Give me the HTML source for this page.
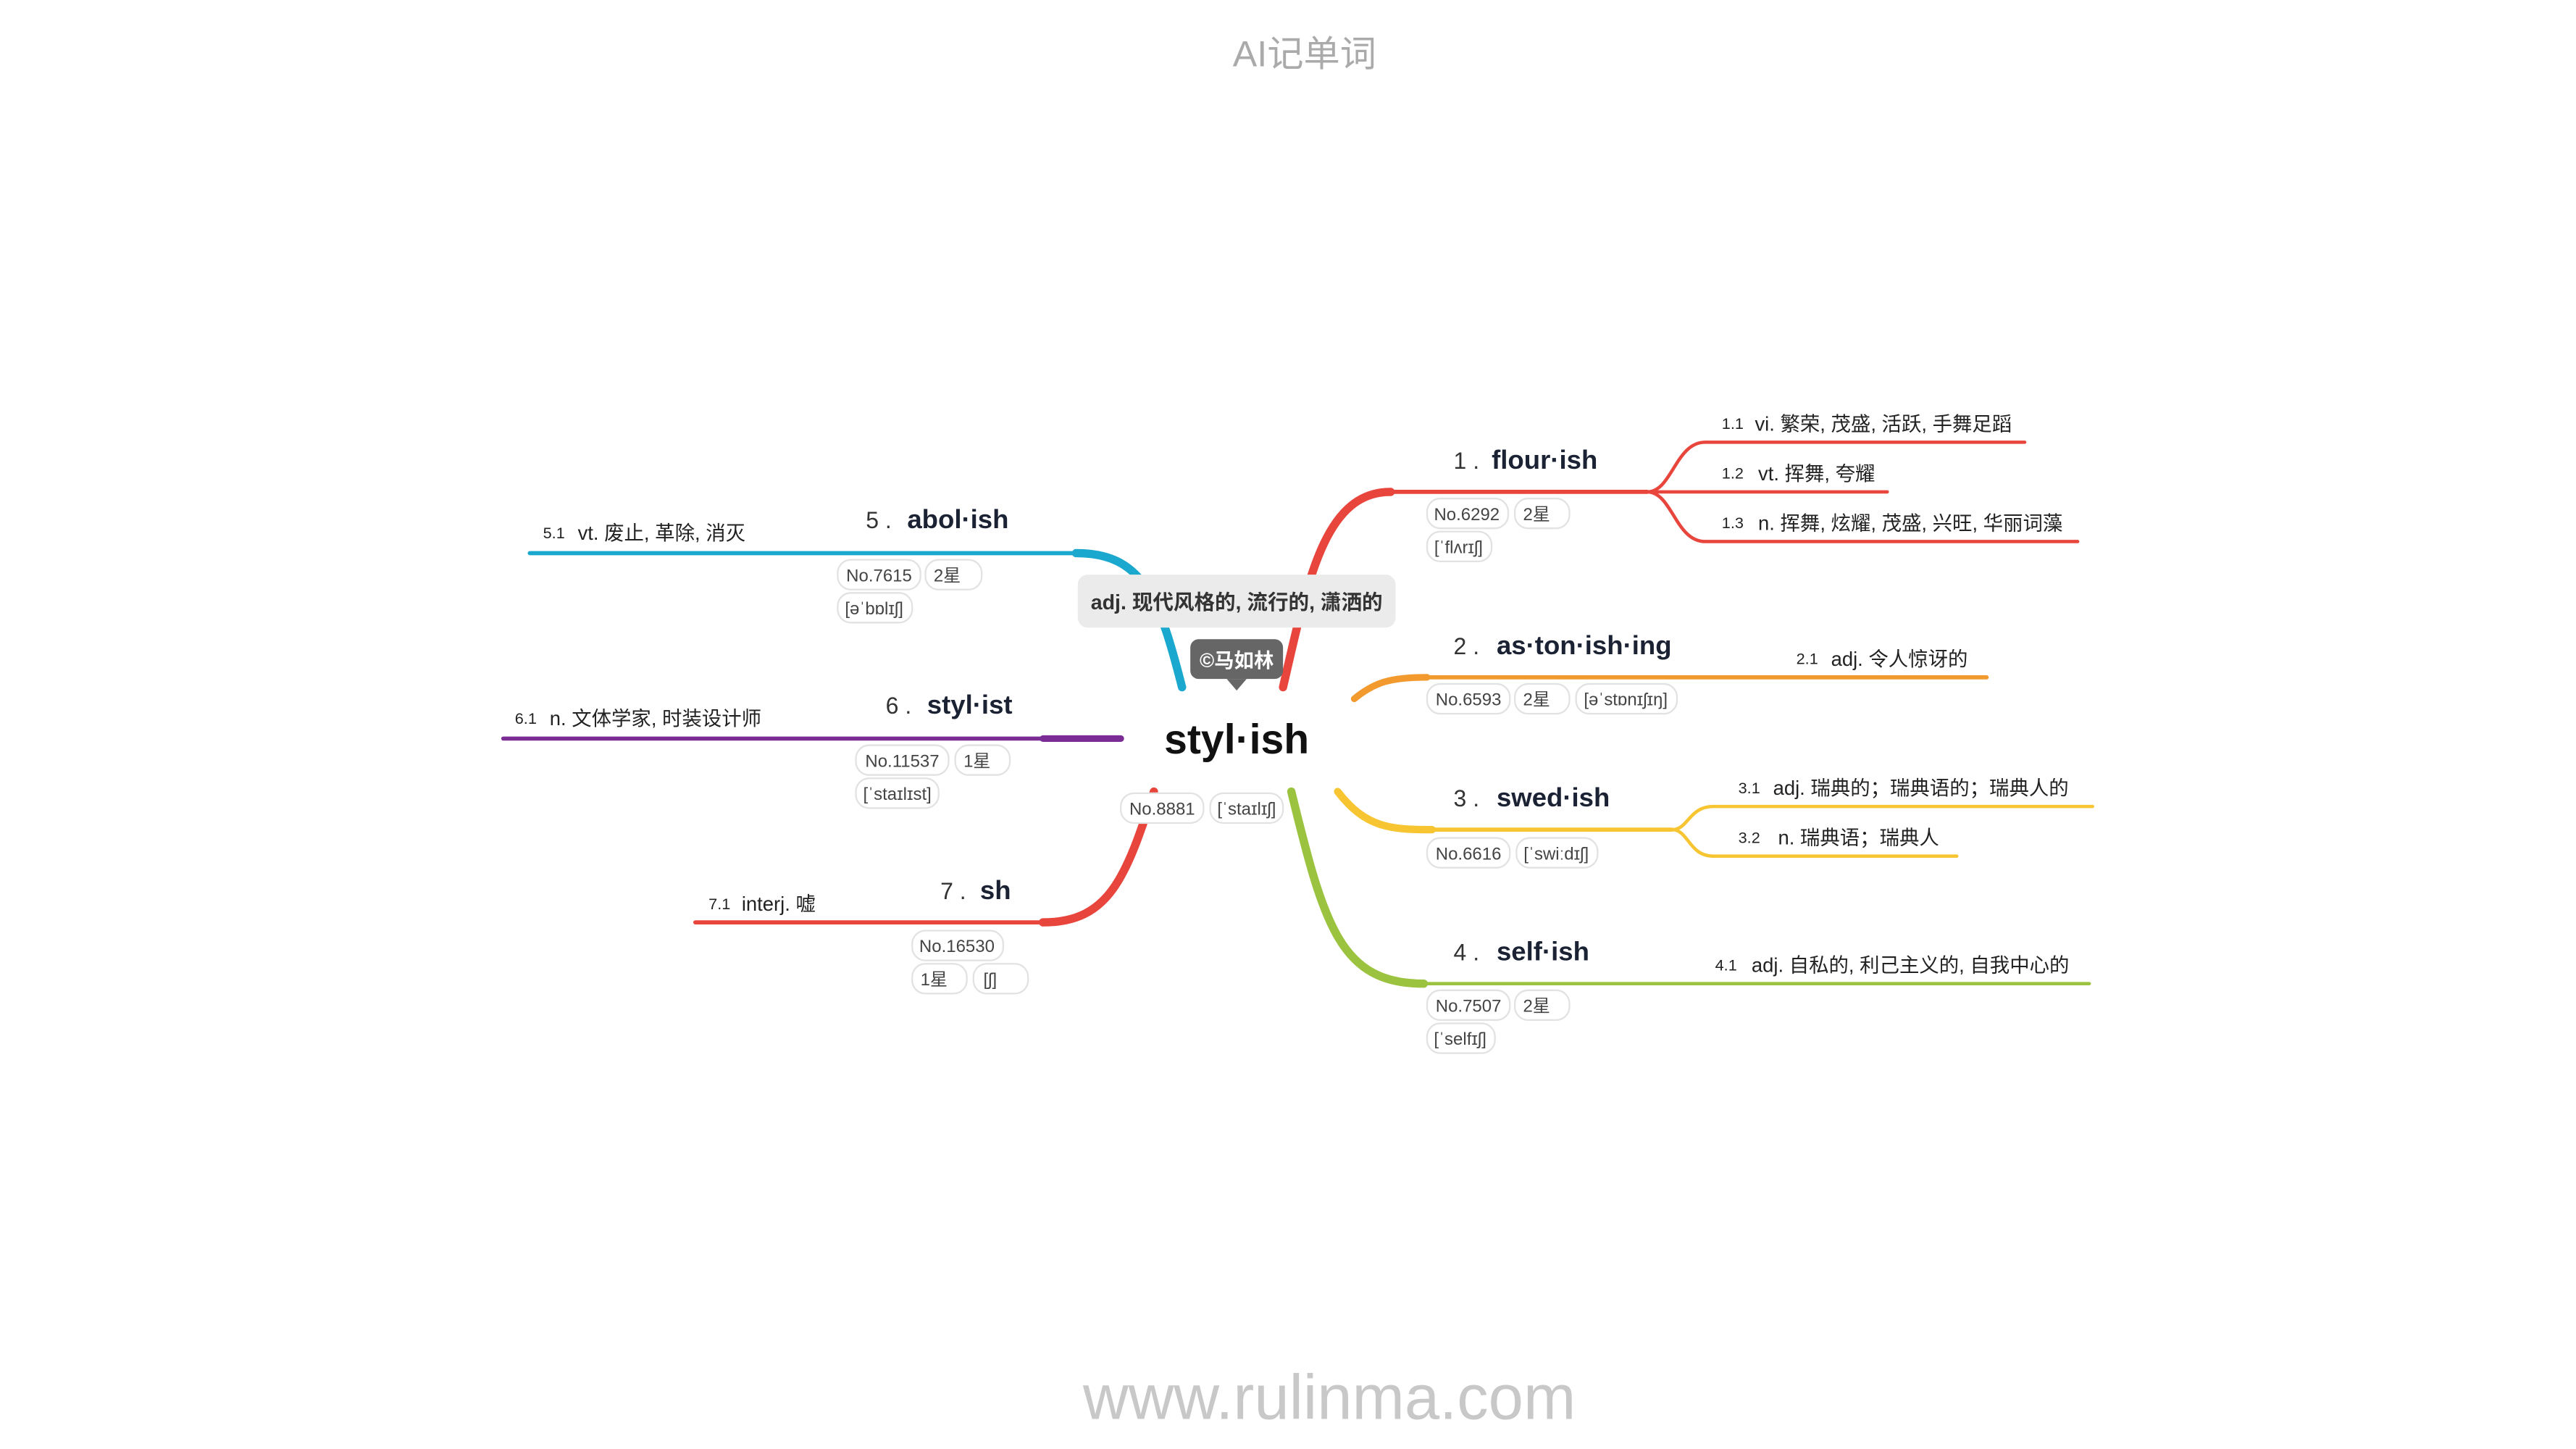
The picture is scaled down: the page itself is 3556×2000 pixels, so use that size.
<!DOCTYPE html>
<html><head><meta charset="utf-8"><style>
html,body{margin:0;padding:0;background:#fff}
svg{display:block}
text{font-family:"Liberation Sans","Noto Sans CJK SC",sans-serif}
.w{font-size:16px;font-weight:bold;fill:#1a2233}
.n{font-size:14px;fill:#333}
.s{font-size:12px;fill:#222}
.sn{font-size:9.5px;fill:#222}
.p{font-size:10.5px;fill:#444}
.pb{fill:#fff;stroke:#e2e2e2;stroke-width:1}
</style></head><body>
<svg width="3556" height="2000" viewBox="0 0 1556 875" xmlns="http://www.w3.org/2000/svg">
<rect width="1556" height="875" fill="#fff"/>
<text x="788" y="40" text-anchor="middle" font-size="22" fill="#aaa">AI记单词</text>
<text x="803" y="857" text-anchor="middle" font-size="38" fill="#c8c8c8">www.rulinma.com</text>
<g fill="none" stroke-linecap="round">
<!-- 1 red -->
<path d="M775,415 C790,350 800,297 840,297" stroke="#e8453c" stroke-width="5"/>
<path d="M838,297 L995,297" stroke="#e8453c" stroke-width="2.5"/>
<path d="M995,297 C1010,297 1012,267 1030,267 L1223,267" stroke="#e8453c" stroke-width="2"/>
<path d="M995,297 L1140,297" stroke="#e8453c" stroke-width="2"/>
<path d="M995,297 C1010,297 1012,327 1030,327 L1255,327" stroke="#e8453c" stroke-width="2"/>
<!-- 2 orange -->
<path d="M818,422 C830,412 840,409 862,409" stroke="#f29a2e" stroke-width="4"/>
<path d="M860,409 L1200,409" stroke="#f29a2e" stroke-width="2.5"/>
<!-- 3 yellow -->
<path d="M808,478 C825,500 840,501 865,501" stroke="#f7c531" stroke-width="4.5"/>
<path d="M863,501 L1010,501" stroke="#f7c531" stroke-width="2.5"/>
<path d="M1010,501 C1020,501 1020,487 1035,487 L1264,487" stroke="#f7c531" stroke-width="2"/>
<path d="M1010,501 C1020,501 1020,517 1035,517 L1182,517" stroke="#f7c531" stroke-width="2"/>
<!-- 4 green -->
<path d="M780,478 C800,560 810,594 860,594" stroke="#9bc33f" stroke-width="5"/>
<path d="M858,594 L1262,594" stroke="#9bc33f" stroke-width="2"/>
<!-- 5 blue -->
<path d="M714,415 C700,360 690,334 650,334" stroke="#1ba8cf" stroke-width="5"/>
<path d="M652,334 L320,334" stroke="#1ba8cf" stroke-width="2.5"/>
<!-- 6 purple -->
<path d="M677,446 L630,446" stroke="#7b2d95" stroke-width="4"/>
<path d="M632,446 L304,446" stroke="#7b2d95" stroke-width="2.5"/>
<!-- 7 red -->
<path d="M697,478 C680,530 670,557 630,557" stroke="#e8453c" stroke-width="5"/>
<path d="M632,557 L420,557" stroke="#e8453c" stroke-width="2.5"/>
</g>
<!-- center -->
<rect x="651" y="347" width="192" height="32" rx="6" fill="#ebebeb"/>
<text x="747" y="368" text-anchor="middle" font-size="12.5" font-weight="bold" fill="#333">adj. 现代风格的, 流行的, 潇洒的</text>
<rect x="719" y="386" width="56" height="24" rx="5" fill="#666"/>
<path d="M741,410 L747,417 L753,410 Z" fill="#666"/>
<text x="747" y="403" text-anchor="middle" font-size="12" font-weight="bold" fill="#fff">©马如林</text>
<text x="747" y="455" text-anchor="middle" font-size="25" font-weight="bold" fill="#111">styl·ish</text>
<rect class="pb" x="677" y="479" width="50" height="18" rx="8"/><text class="p" x="702" y="492" text-anchor="middle">No.8881</text>
<rect class="pb" x="731" y="479" width="44" height="18" rx="8"/><text class="p" x="753" y="492" text-anchor="middle">[ˈstaɪlɪʃ]</text>
<!-- 1 -->
<text class="n" x="878" y="283">1 .</text><text class="w" x="901" y="283">flour·ish</text>
<rect class="pb" x="862" y="301" width="49" height="18" rx="8"/><text class="p" x="886" y="314" text-anchor="middle">No.6292</text>
<rect class="pb" x="915" y="301" width="33" height="18" rx="8"/><text class="p" x="920" y="314">2星</text>
<rect class="pb" x="862" y="321" width="39" height="18" rx="8"/><text class="p" x="881" y="334" text-anchor="middle">[ˈflʌrɪʃ]</text>
<text class="sn" x="1040" y="259">1.1</text><text class="s" x="1060" y="260">vi. 繁荣, 茂盛, 活跃, 手舞足蹈</text>
<text class="sn" x="1040" y="289">1.2</text><text class="s" x="1062" y="290">vt. 挥舞, 夸耀</text>
<text class="sn" x="1040" y="319">1.3</text><text class="s" x="1062" y="320">n. 挥舞, 炫耀, 茂盛, 兴旺, 华丽词藻</text>
<!-- 2 -->
<text class="n" x="878" y="395">2 .</text><text class="w" x="904" y="395">as·ton·ish·ing</text>
<text class="sn" x="1085" y="401">2.1</text><text class="s" x="1106" y="402">adj. 令人惊讶的</text>
<rect class="pb" x="862" y="413" width="50" height="18" rx="8"/><text class="p" x="887" y="426" text-anchor="middle">No.6593</text>
<rect class="pb" x="915" y="413" width="33" height="18" rx="8"/><text class="p" x="920" y="426">2星</text>
<rect class="pb" x="952" y="413" width="61" height="18" rx="8"/><text class="p" x="982" y="426" text-anchor="middle">[əˈstɒnɪʃɪŋ]</text>
<!-- 3 -->
<text class="n" x="878" y="487">3 .</text><text class="w" x="904" y="487">swed·ish</text>
<text class="sn" x="1050" y="479">3.1</text><text class="s" x="1071" y="480">adj. 瑞典的；瑞典语的；瑞典人的</text>
<text class="sn" x="1050" y="509">3.2</text><text class="s" x="1074" y="510">n. 瑞典语；瑞典人</text>
<rect class="pb" x="862" y="506" width="50" height="18" rx="8"/><text class="p" x="887" y="519" text-anchor="middle">No.6616</text>
<rect class="pb" x="916" y="506" width="49" height="18" rx="8"/><text class="p" x="940" y="519" text-anchor="middle">[ˈswiːdɪʃ]</text>
<!-- 4 -->
<text class="n" x="878" y="580">4 .</text><text class="w" x="904" y="580">self·ish</text>
<text class="sn" x="1036" y="586">4.1</text><text class="s" x="1058" y="587">adj. 自私的, 利己主义的, 自我中心的</text>
<rect class="pb" x="862" y="598" width="50" height="18" rx="8"/><text class="p" x="887" y="611" text-anchor="middle">No.7507</text>
<rect class="pb" x="915" y="598" width="33" height="18" rx="8"/><text class="p" x="920" y="611">2星</text>
<rect class="pb" x="862" y="618" width="41" height="18" rx="8"/><text class="p" x="882" y="631" text-anchor="middle">[ˈselfɪʃ]</text>
<!-- 5 -->
<text class="n" x="523" y="319">5 .</text><text class="w" x="548" y="319">abol·ish</text>
<text class="sn" x="328" y="325">5.1</text><text class="s" x="349" y="326">vt. 废止, 革除, 消灭</text>
<rect class="pb" x="506" y="338" width="50" height="18" rx="8"/><text class="p" x="531" y="351" text-anchor="middle">No.7615</text>
<rect class="pb" x="559" y="338" width="34" height="18" rx="8"/><text class="p" x="564" y="351">2星</text>
<rect class="pb" x="506" y="358" width="45" height="18" rx="8"/><text class="p" x="528" y="371" text-anchor="middle">[əˈbɒlɪʃ]</text>
<!-- 6 -->
<text class="n" x="535" y="431">6 .</text><text class="w" x="560" y="431">styl·ist</text>
<text class="sn" x="311" y="437">6.1</text><text class="s" x="332" y="438">n. 文体学家, 时装设计师</text>
<rect class="pb" x="517" y="450" width="56" height="18" rx="8"/><text class="p" x="545" y="463" text-anchor="middle">No.11537</text>
<rect class="pb" x="577" y="450" width="33" height="18" rx="8"/><text class="p" x="582" y="463">1星</text>
<rect class="pb" x="517" y="470" width="50" height="18" rx="8"/><text class="p" x="542" y="483" text-anchor="middle">[ˈstaɪlɪst]</text>
<!-- 7 -->
<text class="n" x="568" y="543">7 .</text><text class="w" x="592" y="543">sh</text>
<text class="sn" x="428" y="549">7.1</text><text class="s" x="448" y="550">interj. 嘘</text>
<rect class="pb" x="551" y="562" width="55" height="18" rx="8"/><text class="p" x="578" y="575" text-anchor="middle">No.16530</text>
<rect class="pb" x="551" y="582" width="33" height="18" rx="8"/><text class="p" x="556" y="595">1星</text>
<rect class="pb" x="588" y="582" width="33" height="18" rx="8"/><text class="p" x="594" y="595">[ʃ]</text>
</svg>
</body></html>
